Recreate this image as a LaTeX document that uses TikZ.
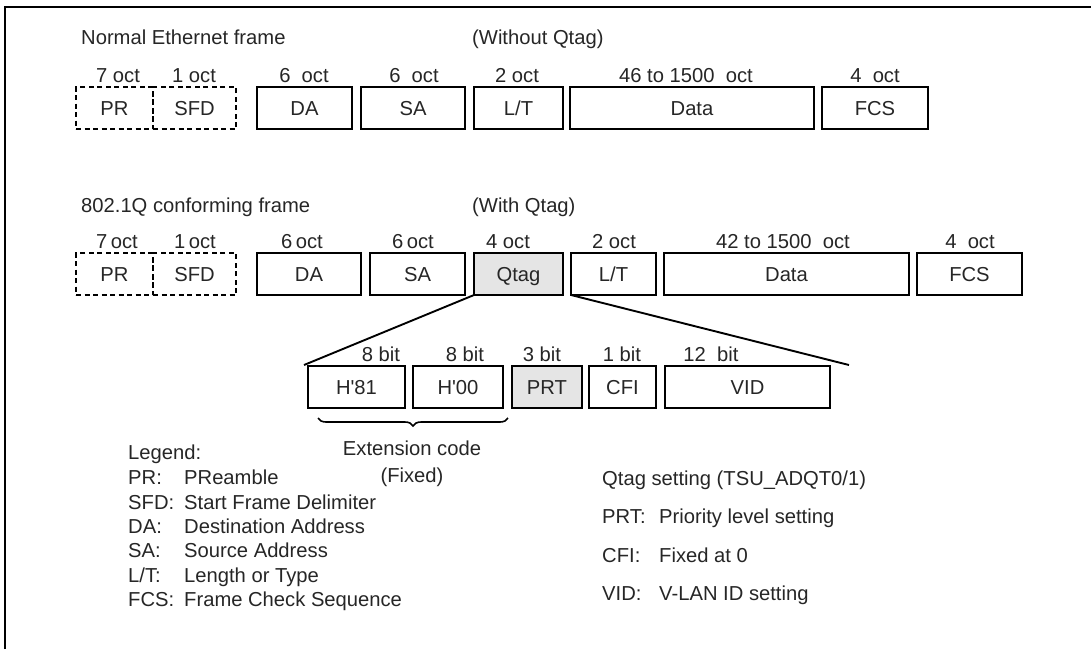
\documentclass[tikz,border=0pt]{standalone}
\usepackage{fontspec}
\setmainfont{Liberation Sans}
\usetikzlibrary{decorations.pathreplacing}
\begin{document}
\begin{tikzpicture}[x=1pt,y=-1pt,
  font=\fontsize{20.2}{23}\selectfont,
  txt/.style={inner sep=0pt, anchor=base},
  ltxt/.style={inner sep=0pt, anchor=base west},
  fld/.style={draw, line width=1.9pt, rectangle, inner sep=0pt, outer sep=0pt,
    minimum height=42pt, text height=14.4pt, text depth=0pt, text=black!85},
  dfld/.style={fld, dash pattern=on 5pt off 3.5pt},
  gfld/.style={fld, fill=black!10},
  link/.style={line width=1.9pt},
  every node/.append style={text=black!85}]
\useasboundingbox (0,0) rectangle (1091,649);
\newcommand\fbx[6]{\node[#2, minimum width={(#4-#3)*1pt}] (#1) at ({(#3+#4)/2},{#5+21}) {#6};}
% frame
\draw[line width=2pt] (4.5,649) -- (4.5,6.5) -- (1091,6.5);
% row 1
\node[ltxt] (t1) at (81,44) {Normal Ethernet frame};
\node[ltxt] (t1b) at (472,44) {(Without Qtag)};
\fbx{pra}{dfld}{76}{153}{87}{PR}
\fbx{sfda}{dfld}{153}{236}{87}{SFD}
\fbx{daa}{fld}{257}{352}{87}{DA}
\fbx{saa}{fld}{361}{465}{87}{SA}
\fbx{lta}{fld}{474}{563}{87}{L/T}
\fbx{dataa}{fld}{570}{814}{87}{Data}
\fbx{fcsa}{fld}{822}{928}{87}{FCS}
\node[txt] at (118,82) {7 oct};
\node[txt] at (194,82) {1 oct};
\node[txt] at (304,82) {6~ oct};
\node[txt] at (414,82) {6~ oct};
\node[txt] at (517,82) {2 oct};
\node[txt] at (686,82) {46 to 1500~ oct};
\node[txt] at (875,82) {4~ oct};
% row 2
\node[ltxt] (t2) at (81,212) {802.1Q conforming frame};
\node[ltxt] (t2b) at (472,212) {(With Qtag)};
\fbx{prb}{dfld}{76}{153}{253}{PR}
\fbx{sfdb}{dfld}{153}{236}{253}{SFD}
\fbx{dab}{fld}{257}{361}{253}{DA}
\fbx{sab}{fld}{370}{465}{253}{SA}
\fbx{qtag}{gfld}{474}{563}{253}{Qtag}
\fbx{ltb}{fld}{571}{656}{253}{L/T}
\fbx{datab}{fld}{664}{909}{253}{Data}
\fbx{fcsb}{fld}{917}{1022}{253}{FCS}
\node[txt] at (117,248) {7\,oct};
\node[txt] at (195,248) {1\,oct};
\node[txt] at (302,248) {6\,oct};
\node[txt] at (413,248) {6\,oct};
\node[txt] at (508,248) {4 oct};
\node[txt] at (614,248) {2 oct};
\node[txt] at (783,248) {42 to 1500~ oct};
\node[txt] at (970,248) {4~ oct};
% bit row
\fbx{h81}{fld}{308}{405}{366}{H\textquotesingle 81}
\fbx{h00}{fld}{413}{503}{366}{H\textquotesingle 00}
\fbx{prt}{gfld}{512}{582}{366}{PRT}
\fbx{cfi}{fld}{589}{656}{366}{CFI}
\fbx{vid}{fld}{665}{830}{366}{VID}
\node[txt] at (381,361) {8 bit};
\node[txt] at (465,361) {8 bit};
\node[txt] at (542,361) {3 bit};
\node[txt] at (622,361) {1 bit};
\node[txt] at (711,361) {12~ bit};
% expansion lines
\coordinate (lend) at (304,365);
\coordinate (rend) at (849,365);
\draw[link] (qtag.south west) -- (lend);
\draw[link] (ltb.south west) -- (rend);
% brace
\coordinate (bl) at (318,418);
\coordinate (br) at (508,418);
\draw[line width=1.6pt, decorate, decoration={brace, mirror, amplitude=8pt}] (bl) -- (br);
\node[txt] (ext) at (412,455) {Extension code};
\node[txt] (fixed) at (412,482) {(Fixed)};
% legend
\node[ltxt] (lg) at (128,459) {Legend:};
\node[ltxt] at (128,484.5) {PR:};   \node[ltxt] at (184,484.5) {PReamble};
\node[ltxt] at (128,509) {SFD:};  \node[ltxt] at (184,509) {Start Frame Delimiter};
\node[ltxt] at (128,533) {DA:};   \node[ltxt] at (184,533) {Destination Address};
\node[ltxt] at (128,557.5) {SA:};   \node[ltxt] at (184,557.5) {Source Address};
\node[ltxt] at (128,582) {L/T:};  \node[ltxt] at (184,582) {Length or Type};
\node[ltxt] at (128,606) {FCS:};  \node[ltxt] at (184,606) {Frame Check Sequence};
% qtag setting
\node[ltxt] (qs) at (602,485) {Qtag setting (TSU\_ADQT0/1)};
\node[ltxt] at (602,523.5) {PRT:}; \node[ltxt] at (659,523.5) {Priority level setting};
\node[ltxt] at (602,562) {CFI:}; \node[ltxt] at (659,562) {Fixed at 0};
\node[ltxt] at (602,600) {VID:}; \node[ltxt] at (659,600) {V-LAN ID setting};
\end{tikzpicture}
\end{document}
